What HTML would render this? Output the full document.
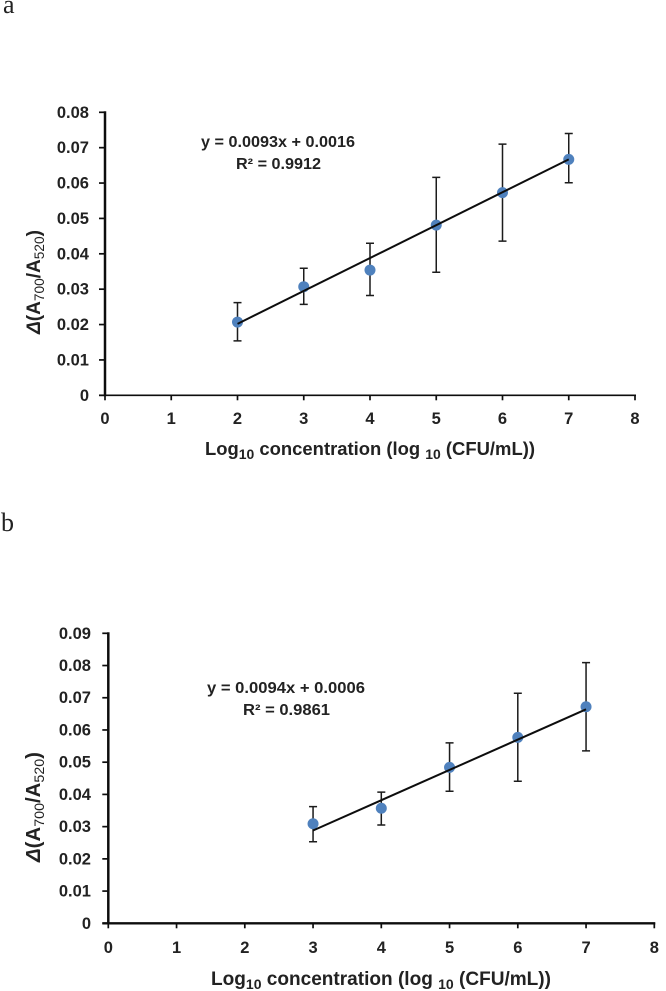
<!DOCTYPE html>
<html>
<head>
<meta charset="utf-8">
<title>Calibration charts</title>
<style>
html,body{margin:0;padding:0;background:#fff;width:666px;height:991px;overflow:hidden}
svg{display:block}
text{font-family:"Liberation Sans",sans-serif;font-weight:bold;fill:#222}
.panel{font-family:"Liberation Serif",serif;font-weight:normal;font-size:26px;fill:#222}
</style>
</head>
<body>
<svg id="fig" width="666" height="991" viewBox="0 0 666 991" xmlns="http://www.w3.org/2000/svg">
  <defs><filter id="soft" x="-5%" y="-5%" width="110%" height="110%"><feGaussianBlur stdDeviation="0.35"/></filter></defs>
  <g filter="url(#soft)">
  <text class="panel" x="3" y="13">a</text>
  <text class="panel" x="1" y="531">b</text>
  <g id="chart-a"></g>
  <g id="chart-b"></g>
  <text x="201" y="147" font-size="15.5" textLength="154" lengthAdjust="spacingAndGlyphs">y = 0.0093x + 0.0016</text>
  <text x="236" y="169" font-size="15.5" textLength="85" lengthAdjust="spacingAndGlyphs">R² = 0.9912</text>
  <text x="207" y="693" font-size="15.5" textLength="158" lengthAdjust="spacingAndGlyphs">y = 0.0094x + 0.0006</text>
  <text x="243" y="715" font-size="15.5" textLength="87" lengthAdjust="spacingAndGlyphs">R² = 0.9861</text>
  <text x="205" y="455" font-size="18.5" textLength="330" lengthAdjust="spacingAndGlyphs">Log<tspan font-size="14" dy="4">10</tspan><tspan dy="-4"> concentration  (log </tspan><tspan font-size="14" dy="4">10</tspan><tspan dy="-4"> (CFU/mL))</tspan></text>
  <text x="211" y="985" font-size="19" textLength="340" lengthAdjust="spacingAndGlyphs">Log<tspan font-size="14" dy="4">10</tspan><tspan dy="-4"> concentration  (log </tspan><tspan font-size="14" dy="4">10</tspan><tspan dy="-4"> (CFU/mL))</tspan></text>
  <text transform="translate(40,334) rotate(-90)" font-size="19.5" textLength="104" lengthAdjust="spacingAndGlyphs"><tspan font-style="italic">Δ</tspan>(A<tspan font-size="14" font-weight="normal" dy="4">700</tspan><tspan dy="-4">/A</tspan><tspan font-size="14" font-weight="normal" dy="4">520</tspan><tspan dy="-4">)</tspan></text>
  <text transform="translate(40,862) rotate(-90)" font-size="20" textLength="110" lengthAdjust="spacingAndGlyphs"><tspan font-style="italic">Δ</tspan>(A<tspan font-size="14" font-weight="normal" dy="4">700</tspan><tspan dy="-4">/A</tspan><tspan font-size="14" font-weight="normal" dy="4">520</tspan><tspan dy="-4">)</tspan></text>
  </g>
</svg>
<script>
var xTicks = [0, 1, 2, 3, 4, 5, 6, 7, 8];

var yTicksA = [0, 0.01, 0.02, 0.03, 0.04, 0.05, 0.06, 0.07, 0.08];
var xValuesA = [2, 3, 4, 5, 6, 7];
var meansA = [0.0207, 0.0307, 0.0354, 0.0481, 0.0573, 0.0667];
var upperA = [0.0262, 0.0359, 0.0430, 0.0616, 0.0710, 0.0740];
var lowerA = [0.0154, 0.0257, 0.0282, 0.0348, 0.0436, 0.0601];
var slopeA = 0.0093;
var interceptA = 0.0016;

var yTicksB = [0, 0.01, 0.02, 0.03, 0.04, 0.05, 0.06, 0.07, 0.08, 0.09];
var xValuesB = [3, 4, 5, 6, 7];
var meansB = [0.0309, 0.0357, 0.0484, 0.0577, 0.0672];
var upperB = [0.0362, 0.0407, 0.0560, 0.0714, 0.0809];
var lowerB = [0.0253, 0.0305, 0.0410, 0.0441, 0.0535];
var slopeB = 0.0094;
var interceptB = 0.0006;

var NS = 'http://www.w3.org/2000/svg';

function make(parent, tag, attrs) {
  var el = document.createElementNS(NS, tag);
  for (var k in attrs) el.setAttribute(k, attrs[k]);
  parent.appendChild(el);
  return el;
}

function drawChart(g, cfg) {
  function sx(v) { return cfg.x0 + (v / cfg.xMax) * (cfg.x1 - cfg.x0); }
  function sy(v) { return cfg.y0 - (v / cfg.yMax) * (cfg.y0 - cfg.y1); }
  var i, el;

  el = make(g, 'line', {x1: cfg.x0, x2: cfg.x0, y1: cfg.y1 - 1, y2: cfg.y0 + 1, stroke: '#111', 'stroke-width': 2.5});
  
  
  el = make(g, 'line', {x1: cfg.x0 - 6, x2: cfg.x1 + 1, y1: cfg.y0, y2: cfg.y0, stroke: '#111', 'stroke-width': cfg.xAxisWidth});
  
  

  for (i = 0; i < cfg.yTicks.length; i++) {
    var ty = sy(cfg.yTicks[i]);
    el = make(g, 'line', {x1: cfg.x0 - 6, x2: cfg.x0, y1: ty, y2: ty, stroke: '#111', 'stroke-width': 1.7});
    
    
    el = make(g, 'text', {x: cfg.yLabelX, y: ty + 5.5, 'text-anchor': 'end', 'font-size': 16.5});
    
    
    el.textContent = String(cfg.yTicks[i]);
  }

  for (i = 0; i < xTicks.length; i++) {
    var tx = sx(xTicks[i]);
    el = make(g, 'line', {x1: tx, x2: tx, y1: cfg.y0, y2: cfg.y0 + 5, stroke: '#111', 'stroke-width': 1.7});
    
    
    el = make(g, 'text', {x: tx, y: cfg.xLabelY, 'text-anchor': 'middle', 'font-size': 16.5});
    
    
    el.textContent = String(xTicks[i]);
  }

  for (i = 0; i < cfg.xs.length; i++) {
    var ex = sx(cfg.xs[i]);
    el = make(g, 'path', {
      d: 'M' + (ex - 4) + ' ' + sy(cfg.upper[i]) + 'H' + (ex + 4) +
         'M' + ex + ' ' + sy(cfg.upper[i]) + 'V' + sy(cfg.lower[i]) +
         'M' + (ex - 4) + ' ' + sy(cfg.lower[i]) + 'H' + (ex + 4),
      fill: 'none', stroke: '#1a1a1a', 'stroke-width': 1.5
    });
    
    
  }

  for (i = 0; i < cfg.xs.length; i++) {
    el = make(g, 'circle', {cx: sx(cfg.xs[i]), cy: sy(cfg.means[i]), r: 5.5, fill: '#4f81bd'});
    
    
  }

  var first = cfg.xs[0];
  var last = cfg.xs[cfg.xs.length - 1];
  el = make(g, 'line', {
    x1: sx(first), y1: sy(cfg.slope * first + cfg.intercept),
    x2: sx(last), y2: sy(cfg.slope * last + cfg.intercept),
    stroke: '#111', 'stroke-width': 2
  });
  
  
}

drawChart(document.getElementById('chart-a'), {
  x0: 105, x1: 635, y0: 395.3, y1: 112.3, xMax: 8, yMax: 0.08,
  yTicks: yTicksA, xs: xValuesA, means: meansA, upper: upperA, lower: lowerA,
  slope: slopeA, intercept: interceptA,
  yLabelX: 89, xLabelY: 424, xAxisWidth: 1.7
});
drawChart(document.getElementById('chart-b'), {
  x0: 108.3, x1: 654.3, y0: 923.3, y1: 633.3, xMax: 8, yMax: 0.09,
  yTicks: yTicksB, xs: xValuesB, means: meansB, upper: upperB, lower: lowerB,
  slope: slopeB, intercept: interceptB,
  yLabelX: 91, xLabelY: 953, xAxisWidth: 2.3
});
</script>
</body>
</html>
